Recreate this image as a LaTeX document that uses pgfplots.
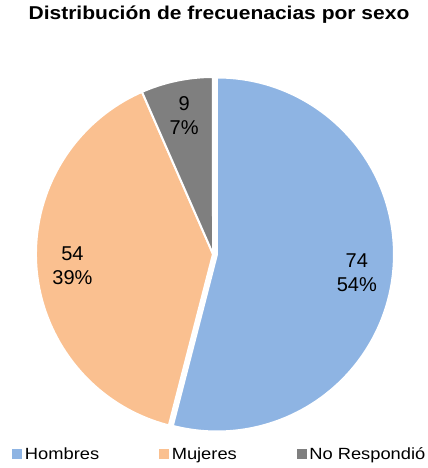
\documentclass[border=0pt]{standalone}
\usepackage{fontspec}
\setmainfont{Liberation Sans}
\newfontfamily\widesans{Liberation Sans}[FakeStretch=1.13]
\usepackage{pgfplots}
\usepackage{pgfplotstable}
\pgfplotsset{compat=1.18}
\usetikzlibrary{calc}
\definecolor{hombres}{RGB}{142,180,227}
\definecolor{mujeres}{RGB}{250,192,144}
\definecolor{noresp}{RGB}{127,127,127}

\pgfplotstableread[col sep=comma]{
label,value,color,explode
Hombres,74,hombres,4
Mujeres,54,mujeres,0
No Respondió,9,noresp,0
}\piedata

\pgfplotsset{pieleg/.style={draw=none, legend image code/.code={\path[fill] (0pt,-5pt) rectangle (10pt,5pt);}}}

\begin{document}
\begin{tikzpicture}
\begin{axis}[
  width=427pt, height=468pt, scale only axis,
  xmin=0, xmax=427, ymin=0, ymax=468,
  hide axis, clip=false,
  title={Distribución de frecuenacias por sexo},
  title style={at={(axis description cs:0.5129,0.9451)}, anchor=base, inner sep=0pt,
    font=\widesans\bfseries\fontsize{18.6}{22}\selectfont},
  legend columns=3,
  legend style={at={(axis description cs:0.0288,0.0299)}, anchor=west,
    draw=none, fill=none, inner sep=0pt,
    font=\widesans\fontsize{16.2}{18}\selectfont,
    nodes={inner xsep=2.5pt, inner ysep=0pt},
    /tikz/every even column/.append style={column sep=57.5pt},
    /tikz/every odd column/.append style={column sep=0pt}},
]
\addlegendimage{pieleg, fill=hombres}\addlegendentry{Hombres}
\addlegendimage{pieleg, fill=mujeres}\addlegendentry{Mujeres}
\addlegendimage{pieleg, fill=noresp}\addlegendentry{No Respondió}
\pgfplotsextra{
  \path (rel axis cs:0,0) rectangle (rel axis cs:1,1);
  \pgfplotstablegetrowsof{\piedata}
  \pgfmathtruncatemacro\nrows{\pgfplotsretval-1}
  \gdef\total{0}
  \foreach \i in {0,...,\nrows}{
    \pgfplotstablegetelem{\i}{value}\of\piedata
    \pgfmathsetmacro\tmp{\total+\pgfplotsretval}\xdef\total{\tmp}
  }
  \gdef\startang{90}
  \foreach \i in {0,...,\nrows}{
    \pgfplotstablegetelem{\i}{value}\of\piedata \let\val\pgfplotsretval
    \pgfplotstablegetelem{\i}{color}\of\piedata \let\col\pgfplotsretval
    \pgfplotstablegetelem{\i}{explode}\of\piedata \let\ex\pgfplotsretval
    \pgfmathsetmacro\frac{\val/\total}
    \pgfmathsetmacro\sweep{360*\frac}
    \pgfmathsetmacro\endang{\startang-\sweep}
    \pgfmathsetmacro\midang{\startang-\sweep/2}
    \pgfmathtruncatemacro\pct{round(100*\frac)}
    \fill[fill=\col, draw=white, line width=2pt]
      ($(axis cs:213,214)+(\midang:\ex pt)$) -- ++(\startang:177pt)
      arc[start angle=\startang, end angle=\endang, radius=177pt] -- cycle;
    \node[align=center, inner sep=0pt, font=\fontsize{20}{24}\selectfont]
      at ($(axis cs:213,214)+(\midang:\ex pt)+(\midang:141pt)$) {\val\\\pct\%};
    \xdef\startang{\endang}
  }
}
\end{axis}
\end{tikzpicture}
\end{document}
